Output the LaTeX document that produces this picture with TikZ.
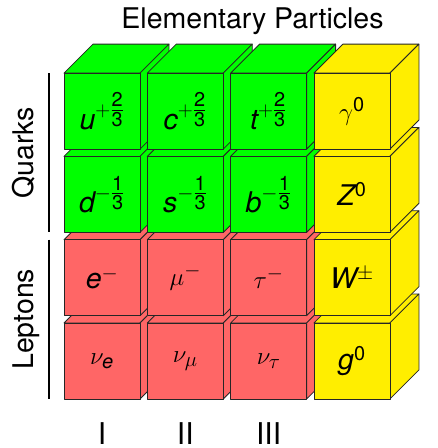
\documentclass[tikz,border=0pt]{standalone}
\usepackage{amsmath}
\usepackage{fontspec}
\setmainfont{TeX Gyre Heros}
\usetikzlibrary{positioning,calc}

\definecolor{quark}{RGB}{0,255,0}
\definecolor{lepton}{RGB}{255,102,102}
\definecolor{boson}{RGB}{255,238,0}

\begin{document}
\begin{tikzpicture}[
    node distance=7.3pt and 7.3pt,
    face/.style={draw=black!85, line width=0.8pt, line join=round},
    cube/.style={face, fill=#1, minimum width=76pt, minimum height=76pt, inner sep=0pt, outer sep=0pt,
      font=\fontsize{28.5}{30}\selectfont,
      append after command={\pgfextra{
        \filldraw[face, fill=#1] (\tikzlastnode.north west) -- ++(29pt,29pt) -- ++(76pt,0pt) -- (\tikzlastnode.north east) -- cycle;
        \filldraw[face, fill=#1] (\tikzlastnode.north east) -- ++(29pt,29pt) -- ++(0pt,-76pt) -- (\tikzlastnode.south east) -- cycle;
      }}},
    label/.style={font=\fontsize{28.5}{30}\selectfont, inner sep=0pt},
    gen/.style={font=\fontsize{30}{32}\selectfont, inner sep=0pt},
    bracket/.style={line width=1.5pt},
]
\useasboundingbox (0pt,0pt) rectangle (438pt,-448pt);

% Row 4: neutrinos + gluon (drawn first, upper rows overlap them)
\node[cube=lepton] (nue) at (102pt,-361pt) {$\nu_{\mathit{e}}$};
\node[cube=lepton, right=of nue] (numu) {$\nu_{\mu}$};
\node[cube=lepton, right=of numu] (nutau) {$\nu_{\tau}$};
\node[cube=boson, right=of nutau] (g) {$\mathit{g}^{\mathrm{0}}$};

% Row 3: charged leptons + W
\node[cube=lepton, above=of nue] (e) {$\mathit{e}^{-}$};
\node[cube=lepton, right=of e] (mu) {$\mu^{-}$};
\node[cube=lepton, right=of mu] (tau) {$\tau^{-}$};
\node[cube=boson, right=of tau] (W) {$\mathit{W}^{\pm}$};

% Row 2: down-type quarks + Z
\node[cube=quark, above=of e] (d) {$\mathit{d}^{-\tfrac{\mathrm{1}}{\mathrm{3}}}$};
\node[cube=quark, right=of d] (s) {$\mathit{s}^{-\tfrac{\mathrm{1}}{\mathrm{3}}}$};
\node[cube=quark, right=of s] (b) {$\mathit{b}^{-\tfrac{\mathrm{1}}{\mathrm{3}}}$};
\node[cube=boson, right=of b] (Z) {$\mathit{Z}^{\mathrm{0}}$};

% Row 1: up-type quarks + photon
\node[cube=quark, above=of d] (u) {$\mathit{u}^{+\tfrac{\mathrm{2}}{\mathrm{3}}}$};
\node[cube=quark, right=of u] (c) {$\mathit{c}^{+\tfrac{\mathrm{2}}{\mathrm{3}}}$};
\node[cube=quark, right=of c] (t) {$\mathit{t}^{+\tfrac{\mathrm{2}}{\mathrm{3}}}$};
\node[cube=boson, right=of t] (gamma) {$\gamma^{\mathrm{0}}$};

% Title
\node[label, anchor=base] (title) at (252.5pt,-28pt) {Elementary Particles};

% Groups on the left
\coordinate (qtop) at ([xshift=-15pt]u.north west);
\coordinate (qbot) at ([xshift=-15pt]d.south west);
\coordinate (ltop) at ([xshift=-15pt]e.north west);
\coordinate (lbot) at ([xshift=-15pt]nue.south west);
\draw[bracket] (qtop) -- (qbot);
\draw[bracket] (ltop) -- (lbot);
\node[label, rotate=90, anchor=base] (quarks) at ($(qtop)!0.5!(qbot)+(-15pt,0pt)$) {Quarks};
\node[label, rotate=90, anchor=base] (leptons) at ($(ltop)!0.5!(lbot)+(-16pt,0pt)$) {Leptons};

% Generations
\node[gen, below=23pt of nue] (genI) {I};
\node[gen, below=23pt of numu] (genII) {II};
\node[gen, below=23pt of nutau] (genIII) {III};

\end{tikzpicture}
\end{document}
